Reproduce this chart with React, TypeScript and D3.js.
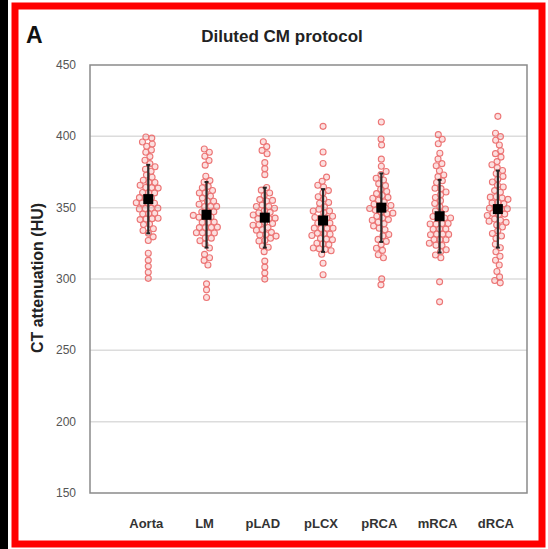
import React, { useEffect, useRef } from 'react';
import * as d3 from 'd3';

const categories = ['Aorta', 'LM', 'pLAD', 'pLCX', 'pRCA', 'mRCA', 'dRCA'];
const yTicks = [150, 200, 250, 300, 350, 400, 450];

// mean and SD
const means = [356, 345, 343, 341, 350, 344, 349];
const sds = [24, 23, 21, 22, 24, 25.5, 27];

const aorta = [399, 398, 396, 395, 393, 391, 389, 386, 383, 381, 378, 376, 375, 373, 371, 370, 368, 367, 366, 365, 363, 362, 361, 360, 359, 358, 357, 356, 355, 354, 353, 352, 351, 350, 349, 348, 347, 346, 345, 344, 343, 342, 341, 339, 338, 336, 334, 332, 330, 327, 318, 313, 308, 305, 301];
const lm = [391, 389, 386, 383, 380, 371, 369, 367, 365, 364, 362, 361, 360, 358, 357, 355, 354, 352, 351, 350, 349, 348, 347, 346, 345, 344, 343, 342, 341, 340, 339, 338, 337, 336, 335, 334, 333, 332, 331, 330, 329, 327, 325, 322, 317, 315, 313, 310, 296, 293, 287];
const plad = [396, 393, 390, 388, 381, 377, 374, 364, 362, 360, 358, 356, 355, 354, 352, 351, 350, 349, 348, 347, 346, 345, 344, 343, 342, 341, 340, 339, 338, 337, 336, 335, 334, 333, 332, 331, 330, 329, 328, 326, 324, 322, 320, 312, 308, 304, 301];
const plcx = [407, 389, 381, 371, 368, 366, 364, 362, 360, 358, 356, 354, 352, 350, 349, 348, 347, 346, 345, 343, 342, 341, 340, 339, 338, 337, 336, 335, 334, 333, 332, 331, 330, 329, 328, 327, 326, 325, 324, 323, 322, 321, 320, 318, 311, 303];
const prca = [410, 397, 395, 384, 379, 375, 373, 371, 369, 367, 365, 363, 361, 360, 358, 357, 356, 355, 354, 353, 352, 351, 350, 349, 348, 347, 346, 345, 344, 343, 342, 341, 340, 339, 338, 336, 334, 332, 330, 328, 326, 324, 322, 320, 317, 315, 299, 297];
const mrca = [401, 398, 395, 388, 384, 381, 379, 376, 373, 371, 369, 367, 365, 363, 361, 359, 357, 355, 353, 351, 349, 347, 345, 344, 343, 342, 341, 340, 339, 338, 337, 336, 335, 334, 333, 332, 331, 330, 329, 328, 327, 326, 325, 323, 321, 319, 317, 315, 298, 284];
const drca = [414, 402, 400, 397, 394, 390, 388, 385, 382, 380, 378, 376, 374, 372, 370, 368, 366, 364, 362, 360, 358, 357, 356, 355, 354, 353, 352, 351, 350, 349, 348, 347, 346, 345, 344, 343, 342, 341, 340, 338, 336, 334, 332, 330, 328, 325, 322, 319, 316, 313, 310, 305, 301, 299, 298];
const groups = [aorta, lm, plad, plcx, prca, mrca, drca];

const W = 548;
const H = 549;
const plot = { left: 90, right: 527, top: 65, bottom: 493 };

const App = () => {
  const svgRef = useRef<SVGSVGElement>(null);

  useEffect(() => {
    document.body.style.margin = '0';
    const svg = d3.select(svgRef.current);
    svg.selectAll('*').remove();

    const x = d3.scaleLinear().domain([-1, categories.length - 0.5]).range([plot.left, plot.right]);
    const y = d3.scaleLinear().domain([150, 450]).range([plot.bottom, plot.top]);

    svg.append('rect').attr('width', W).attr('height', H).attr('fill', '#fff');

    // frame
    svg.append('rect').attr('x', 0).attr('y', 0).attr('width', 8).attr('height', H).attr('fill', '#000');
    svg.append('rect')
      .attr('x', 15).attr('y', 6).attr('width', 527).attr('height', 538)
      .attr('fill', 'none').attr('stroke', '#f00').attr('stroke-width', 7);

    // grid
    svg.append('g').selectAll('line')
      .data(yTicks.filter(t => t > 150 && t < 450))
      .join('line')
      .attr('x1', plot.left).attr('x2', plot.right)
      .attr('y1', d => y(d)).attr('y2', d => y(d))
      .attr('stroke', '#dcdcdc').attr('stroke-width', 1.5);

    svg.append('rect')
      .attr('x', plot.left).attr('y', plot.top)
      .attr('width', plot.right - plot.left).attr('height', plot.bottom - plot.top)
      .attr('fill', 'none').attr('stroke', '#8a8a8a').attr('stroke-width', 1.5);

    // y tick labels
    svg.append('g').selectAll('text')
      .data(yTicks)
      .join('text')
      .attr('x', 76).attr('y', d => y(d) + 4)
      .attr('text-anchor', 'end')
      .attr('font-family', 'Liberation Sans, Arial, sans-serif')
      .attr('font-size', 12)
      .attr('fill', '#555')
      .text(d => d);

    svg.append('text')
      .attr('transform', `translate(43,${(plot.top + plot.bottom) / 2 - 1}) rotate(-90)`)
      .attr('text-anchor', 'middle')
      .attr('font-family', 'Liberation Sans, Arial, sans-serif')
      .attr('font-weight', 'bold')
      .attr('font-size', 16)
      .attr('fill', '#222')
      .text('CT attenuation (HU)');

    svg.append('text')
      .attr('x', 282).attr('y', 42)
      .attr('text-anchor', 'middle')
      .attr('font-family', 'Liberation Sans, Arial, sans-serif')
      .attr('font-weight', 'bold')
      .attr('font-size', 17)
      .attr('fill', '#222')
      .text('Diluted CM protocol');

    svg.append('text')
      .attr('x', 26).attr('y', 43)
      .attr('font-family', 'Liberation Sans, Arial, sans-serif')
      .attr('font-weight', 'bold')
      .attr('font-size', 23)
      .attr('fill', '#111')
      .text('A');

    // x labels
    svg.append('g').selectAll('text')
      .data(categories)
      .join('text')
      .attr('x', (d, i) => x(i) - 2).attr('y', 528)
      .attr('text-anchor', 'middle')
      .attr('font-family', 'Liberation Sans, Arial, sans-serif')
      .attr('font-weight', 'bold')
      .attr('font-size', 13)
      .attr('fill', '#333')
      .text(d => d);

    // beeswarm points
    const nodes: any[] = [];
    groups.forEach((vals, gi) => {
      vals.forEach(v => nodes.push({ gi, v, x: x(gi), y: y(v), ty: y(v) }));
    });
    const sim = d3.forceSimulation(nodes)
      .force('x', d3.forceX((d: any) => x(d.gi)).strength(0.1))
      .force('y', d3.forceY((d: any) => d.ty).strength(0.6))
      .force('collide', d3.forceCollide(3.0))
      .stop();
    for (let i = 0; i < 300; i++) sim.tick();

    svg.append('g').selectAll('circle')
      .data(nodes)
      .join('circle')
      .attr('cx', d => d.x).attr('cy', d => d.y)
      .attr('r', 3)
      .attr('fill', 'rgba(240,110,110,0.22)')
      .attr('stroke', '#ec7575')
      .attr('stroke-width', 1.1);

    // mean ± SD
    const stats = svg.append('g');
    means.forEach((m, i) => {
      const cx = x(i);
      stats.append('line')
        .attr('x1', cx).attr('x2', cx)
        .attr('y1', y(m - sds[i])).attr('y2', y(m + sds[i]))
        .attr('stroke', '#2a2a2a').attr('stroke-width', 2.2);
      [m - sds[i], m + sds[i]].forEach(e => {
        stats.append('line')
          .attr('x1', cx - 2).attr('x2', cx + 2)
          .attr('y1', y(e)).attr('y2', y(e))
          .attr('stroke', '#222').attr('stroke-width', 2);
      });
      stats.append('rect')
        .attr('x', cx - 5).attr('y', y(m) - 5)
        .attr('width', 10).attr('height', 10)
        .attr('fill', '#000');
    });
  }, []);

  return <svg ref={svgRef} width={W} height={H} style={{ display: 'block' }}></svg>;
};

export default App;
